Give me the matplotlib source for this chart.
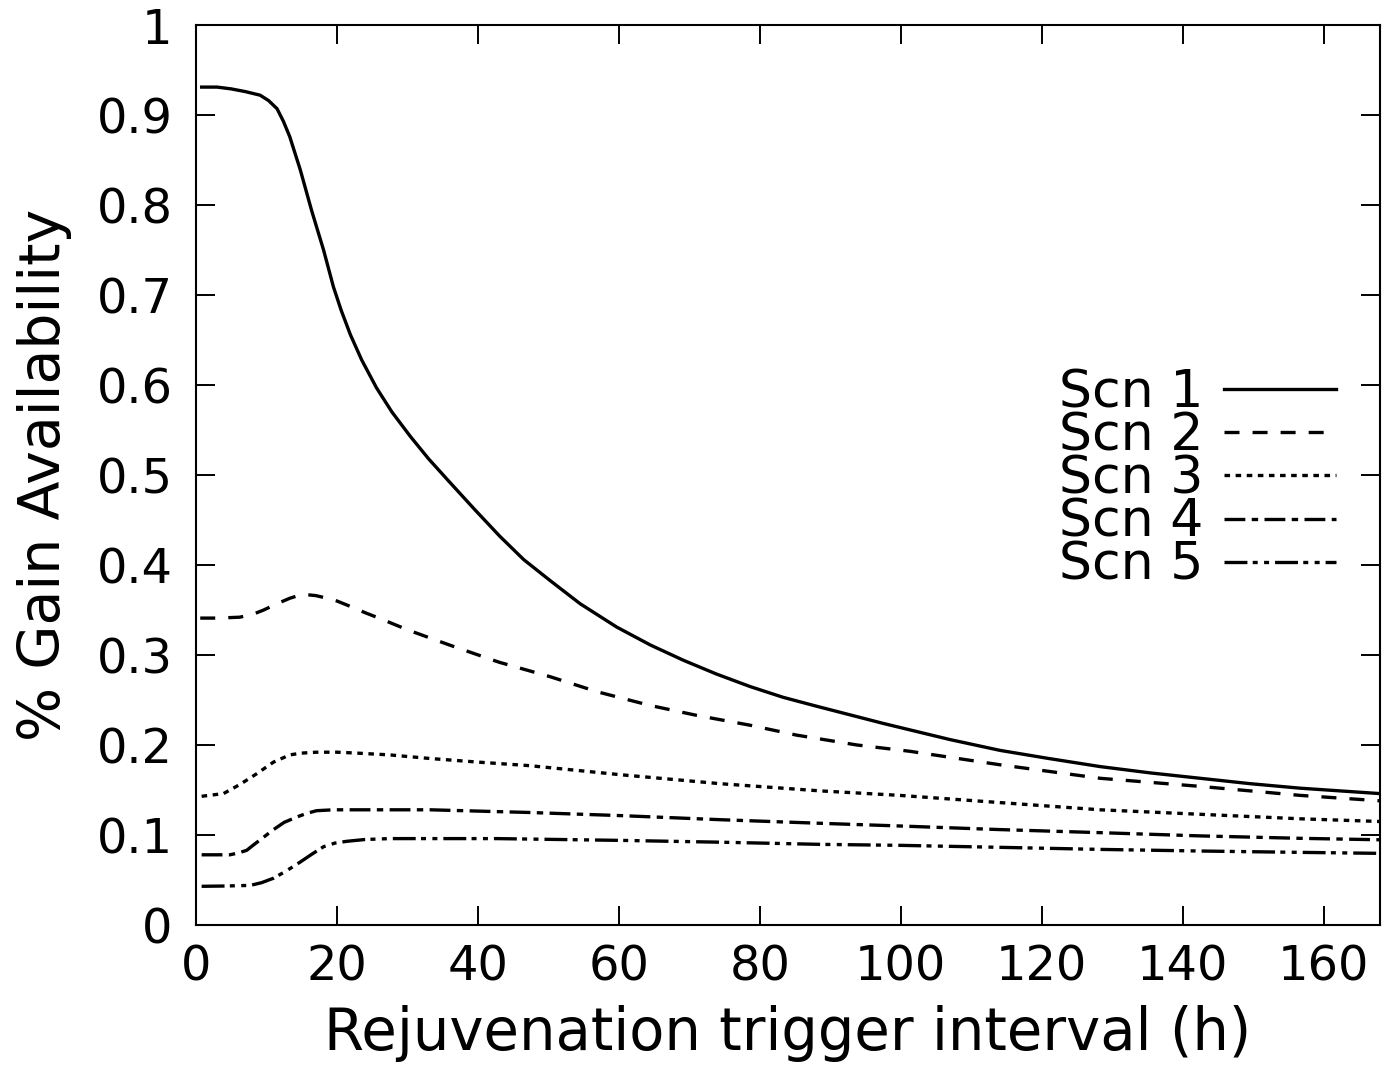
import matplotlib
matplotlib.use("Agg")
import matplotlib.pyplot as plt

# values (x = trigger interval in hours)
scn1_x = [0.8, 3, 5, 7, 9.1, 10.3, 11.5, 12.4, 13.3, 14.8, 16.4, 18.1, 19.5, 20.6, 21.9, 23.5,
          25.6, 27.8, 30.4, 33, 36, 39.5, 43.1, 46.5, 50.2, 54.5, 59.7, 64.5, 69.2, 73.8, 78.6,
          83.3, 88.1, 97.5, 107, 114.1, 121, 128.3, 135.4, 142.5, 149.6, 156.7, 168]
scn1_y = [0.931, 0.931, 0.929, 0.926, 0.922, 0.916, 0.907, 0.893, 0.876, 0.839, 0.794, 0.75, 0.709, 0.683, 0.656, 0.628,
          0.597, 0.570, 0.543, 0.518, 0.492, 0.462, 0.432, 0.406, 0.383, 0.357, 0.331, 0.311, 0.294, 0.279, 0.265,
          0.253, 0.243, 0.224, 0.206, 0.194, 0.185, 0.176, 0.169, 0.163, 0.157, 0.152, 0.146]

scn2_x = [0.6, 3, 6.2, 8, 9.6, 11.5, 13.3, 14.5, 15.7, 17, 18.1, 20, 21.9, 24, 26.6, 30, 36, 43,
          50.2, 57, 64.4, 71, 78.6, 85.2, 93.8, 101.3, 114.1, 128.3, 142.5, 156.7, 168]
scn2_y = [0.341, 0.341, 0.342, 0.345, 0.35, 0.357, 0.363, 0.366, 0.367, 0.366, 0.364, 0.36, 0.354, 0.347, 0.339, 0.328, 0.311, 0.292,
          0.276, 0.259, 0.244, 0.233, 0.222, 0.211, 0.2, 0.193, 0.178, 0.163, 0.154, 0.144, 0.138]

scn3_x = [0.8, 3.9, 6.2, 8.6, 11, 13.3, 15, 17.1, 20, 22.8, 27.5, 33.2, 40, 47.4, 60.2, 74.4,
          88.6, 99.9, 114.1, 128.3, 142.5, 156.7, 168]
scn3_y = [0.143, 0.146, 0.156, 0.168, 0.181, 0.189, 0.191, 0.192, 0.192, 0.191, 0.189, 0.185, 0.181, 0.177, 0.167, 0.157,
          0.149, 0.144, 0.136, 0.128, 0.123, 0.118, 0.115]

scn4_x = [0.8, 2.5, 4.8, 6, 7.2, 8, 9, 11, 12.5, 14.3, 15.7, 17.1, 19.5, 22.8, 33.2, 47.4, 60.4,
          74.4, 88.6, 99.9, 114.1, 128.3, 142.5, 156.7, 168]
scn4_y = [0.078, 0.078, 0.078, 0.080, 0.083, 0.088, 0.094, 0.106, 0.114, 0.12, 0.124, 0.127, 0.128, 0.128, 0.128, 0.125, 0.1215,
          0.117, 0.113, 0.110, 0.106, 0.1026, 0.099, 0.0963, 0.0947]

scn5_x = [0.8, 4, 7.7, 9.3, 11, 12.8, 14.8, 16.5, 18.1, 19.7, 21.4, 24, 27.5, 42.7, 60.4, 74.4,
          88.6, 99.9, 114.1, 128.3, 142.5, 156.7, 168]
scn5_y = [0.043, 0.0433, 0.044, 0.047, 0.052, 0.060, 0.070, 0.079, 0.087, 0.091, 0.093, 0.095, 0.096, 0.096, 0.094, 0.092,
          0.0896, 0.0885, 0.0863, 0.084, 0.0822, 0.0807, 0.0796]

labels = ["Scn 1", "Scn 2", "Scn 3", "Scn 4", "Scn 5"]
styles = ["-", (0, (10.8, 9.4)), (0, (4, 4)), (0, (15, 4.6, 4.6, 4.6)),
          (0, (16.5, 3.8, 3.6, 4.6, 3.6, 4.3))]

plt.rcParams["font.family"] = "DejaVu Sans"
plt.rcParams["lines.scale_dashes"] = False

fig = plt.figure(figsize=(13.92, 10.67), dpi=100)
ax = fig.add_axes([196 / 1392, 1 - 925 / 1067, 1184 / 1392, 900 / 1067])

series = [(scn1_x, scn1_y), (scn2_x, scn2_y), (scn3_x, scn3_y), (scn4_x, scn4_y), (scn5_x, scn5_y)]
for (xs, ys), lab, ls in zip(series, labels, styles):
    ax.plot(xs, ys, color="black", lw=2.4, linestyle=ls, label=lab)

ax.set_xlim(0, 168)
ax.set_ylim(0, 1)
ax.set_xticks(range(0, 161, 20))
ax.set_yticks([i / 10 for i in range(11)])
ax.set_yticklabels(["0"] + ["%.1f" % (i / 10) for i in range(1, 10)] + ["1"])
ax.tick_params(direction="in", length=13.5, width=1.4, top=True, right=True, labelsize=34.5)
ax.tick_params(axis="y", pad=17)
ax.tick_params(axis="x", pad=13)
for sp in ax.spines.values():
    sp.set_linewidth(1.5)

ax.set_xlabel("Rejuvenation trigger interval (h)", fontsize=41.5)
ax.set_ylabel("% Gain Availability", fontsize=41)
ax.xaxis.set_label_coords(0.5, -0.089)
ax.yaxis.set_label_coords(-0.105, 0.5)

leg = ax.legend(loc="center", bbox_to_anchor=(0.846, 0.495), frameon=False, markerfirst=False,
                fontsize=37.5, handlelength=2.15, handletextpad=0.4, labelspacing=-0.13,
                borderpad=0, borderaxespad=0)

fig.savefig("out.png", dpi=100)
